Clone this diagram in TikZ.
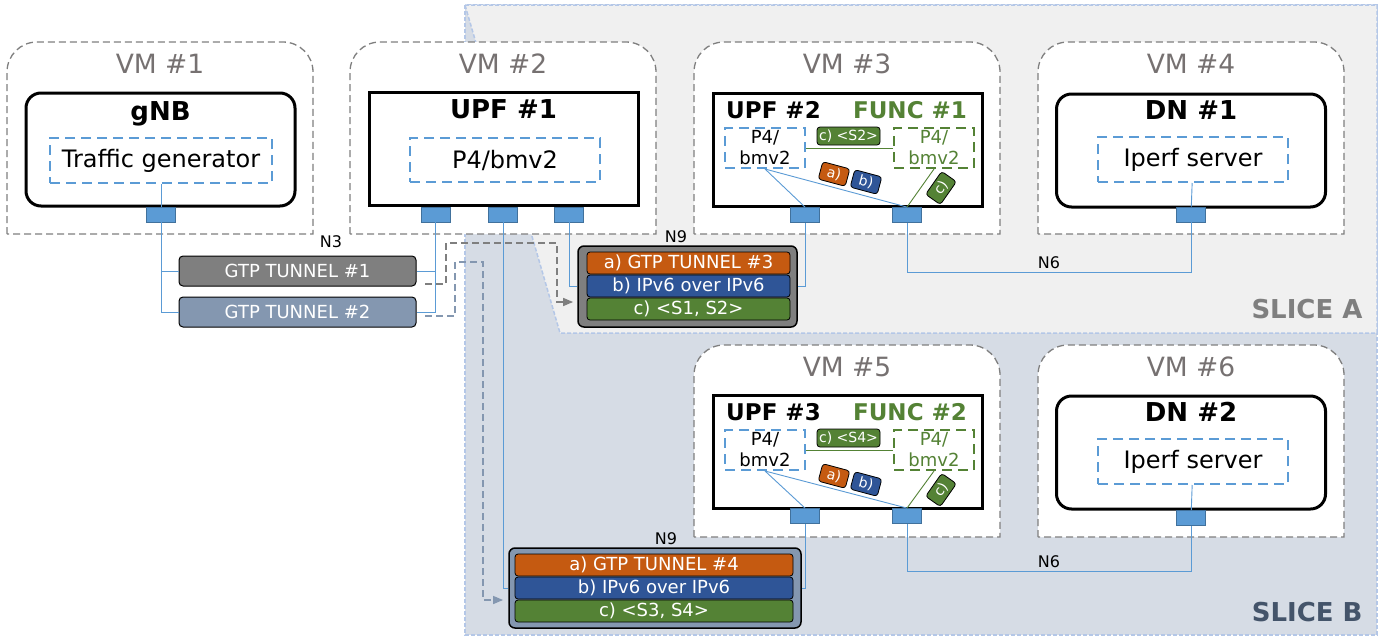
\documentclass[tikz,border=0pt]{standalone}
\usepackage{fontspec}
\setmainfont{DejaVu Sans}
\usepackage{tikz, xcolor}
\usetikzlibrary{arrows}

\definecolor{vmgray}{HTML}{7F7F7F}
\definecolor{vmtext}{HTML}{767171}
\definecolor{appblue}{HTML}{5B9BD5}
\definecolor{portedge}{HTML}{41719C}
\definecolor{funcgreen}{HTML}{548235}
\definecolor{gtporange}{HTML}{C55A11}
\definecolor{ipblue}{HTML}{2F5597}
\definecolor{tunnelgray}{HTML}{7F7F7F}
\definecolor{tunnelblue}{HTML}{8497B0}
\definecolor{sliceAfill}{HTML}{F0F0F0}
\definecolor{sliceBfill}{HTML}{D6DCE5}
\definecolor{sliceedge}{HTML}{B4C7E7}
\definecolor{sliceBtext}{HTML}{44546A}

\begin{document}
\begin{tikzpicture}
	[
		x=1pt, y=-1pt,
		slice/.style={draw=sliceedge, line width=1.5pt, dash pattern=on 4pt off 2pt},
		slicelabel/.style={anchor=base east, font=\fontsize{26}{29}\selectfont\bfseries},
		vm/.style={draw=vmgray, fill=white, line width=1.3pt, dash pattern=on 7pt off 4pt},
		vmlabel/.style={anchor=base, text=vmtext, font=\fontsize{26.5}{30}\selectfont},
		host/.style={draw=black, fill=white, line width=3pt, minimum width=269pt, minimum height=113pt, inner sep=0pt},
		title/.style={anchor=base, font=\fontsize{26}{29}\selectfont\bfseries},
		subtitle/.style={anchor=base, font=\fontsize{23}{26}\selectfont\bfseries},
		app/.style={draw=appblue, line width=2pt, dash pattern=on 10pt off 6pt, inner sep=0pt, font=\fontsize{24}{27}\selectfont},
		smallapp/.style={app, minimum width=80pt, minimum height=40pt, align=center, font=\fontsize{18}{21}\selectfont},
		func/.style={smallapp, draw=funcgreen, text=funcgreen},
		port/.style={draw=portedge, fill=appblue, line width=0.8pt, minimum width=29pt, minimum height=15pt, inner sep=0pt},
		link/.style={draw=appblue, line width=0.9pt},
		glink/.style={draw=funcgreen, line width=0.9pt},
		tunnel/.style={draw=black, line width=1pt, rounded corners=4pt, text=white, minimum width=237pt, minimum height=30pt, inner sep=0pt, font=\fontsize{18}{20}\selectfont},
		n9box/.style={draw=black, line width=1.5pt, rounded corners=6pt, inner sep=0pt},
		bar/.style={draw=black, line width=0.8pt, rounded corners=3pt, text=white, minimum height=22pt, inner sep=0pt, font=\fontsize{18}{20}\selectfont},
		tag/.style={draw=black, line width=0.8pt, rounded corners=3pt, text=white, minimum width=28pt, minimum height=18pt, inner sep=1pt, font=\fontsize{14}{16}\selectfont},
		netlabel/.style={font=\fontsize{16}{18}\selectfont},
		gtpflow/.style={line width=1.3pt, dash pattern=on 7pt off 4pt, -triangle 45}
	]
	\useasboundingbox (0,0) rectangle (1391,637);

	% Draw slices.
	\filldraw[slice, fill=sliceBfill] (465,5) rectangle (1377,635);
	\filldraw[slice, fill=sliceAfill] (465,5) -- (1377,5) -- (1377,333) -- (560,333) -- cycle;
	\node[slicelabel, text=vmgray] (sliceA) at (1366,318) {SLICE A};
	\node[slicelabel, text=sliceBtext] (sliceB) at (1366,621) {SLICE B};

	% Draw VMs (rounded on top only).
	\foreach \x/\y/\n in {7/42/1, 350/42/2, 694/42/3, 1038/42/4, 694/345/5, 1038/345/6}
	{
		\filldraw[vm] (\x,\y+192) -- (\x,\y+30)
			.. controls (\x,\y+13.4) and (\x+13.4,\y) .. (\x+30,\y) -- (\x+276,\y)
			.. controls (\x+292.6,\y) and (\x+306,\y+13.4) .. (\x+306,\y+30) -- (\x+306,\y+192) -- cycle;
		\node[vmlabel] (vm\n) at (\x+153,\y+31) {VM \#\n};
	}

	% Draw gNB.
	\node[host, rounded corners=15pt] (gnb) at (160.5,149.5) {};
	\node[title] (gnbtitle) at (160.5,120) {gNB};
	\node[app, minimum width=222pt, minimum height=45pt] (tg) at (161,160.5) {Traffic generator};

	% Draw UPF #1.
	\node[host] (upf1) at (503.5,149) {};
	\node[title] (upf1title) at (503.5,118) {UPF \#1};
	\node[app, minimum width=190pt, minimum height=44pt] (bmv1) at (505,160) {P4/bmv2};

	% Draw UPF #2 and FUNC #1.
	\node[host] (upf2) at (847.5,149.5) {};
	\node[subtitle] (upf2title) at (773.5,118) {UPF \#2};
	\node[subtitle, text=funcgreen] (func1title) at (910,118) {FUNC \#1};
	\node[smallapp] (bmv2) at (765,148) {P4/\\bmv2};
	\node[func] (func1) at (934,148) {P4/\\bmv2};

	% Draw DN #1.
	\node[host, rounded corners=15pt] (dn1) at (1191,150.5) {};
	\node[title] (dn1title) at (1191,119) {DN \#1};
	\node[app, minimum width=190pt, minimum height=45pt] (iperf1) at (1193,159.5) {Iperf server};

	% Draw UPF #3 and FUNC #2.
	\node[host] (upf3) at (847.5,452) {};
	\node[subtitle] (upf3title) at (773.5,420) {UPF \#3};
	\node[subtitle, text=funcgreen] (func2title) at (910,420) {FUNC \#2};
	\node[smallapp] (bmv3) at (765,450) {P4/\\bmv2};
	\node[func] (func2) at (934,450) {P4/\\bmv2};

	% Draw DN #2.
	\node[host, rounded corners=15pt] (dn2) at (1191,452.5) {};
	\node[title] (dn2title) at (1191,421) {DN \#2};
	\node[app, minimum width=190pt, minimum height=45pt] (iperf2) at (1193,461.5) {Iperf server};

	% Draw ports.
	\node[port] (p1) at (161,214.5) {};
	\node[port] (p21) at (435.5,214.5) {};
	\node[port] (p22) at (503,214.5) {};
	\node[port] (p23) at (569,214.5) {};
	\node[port] (p31) at (805,215) {};
	\node[port] (p32) at (907,215) {};
	\node[port] (p41) at (1191,214.5) {};
	\node[port] (p51) at (805,516) {};
	\node[port] (p52) at (907,516) {};
	\node[port] (p61) at (1191,518) {};

	% Links inside the VMs.
	\draw[link] (tg) -- (p1);
	\draw[link] (iperf1) -- (p41);
	\draw[link] (iperf2) -- (p61);
	\draw[link] (bmv2.south) -- (p31.north);
	\draw[link] (bmv2.south) -- (p32.north);
	\draw[glink] (func1.south) -- (p32.north);
	\draw[glink] (bmv2.east) -- (func1.west);
	\draw[link] (bmv3.south) -- (p51.north);
	\draw[link] (bmv3.south) -- (p52.north);
	\draw[glink] (func2.south) -- (p52.north);
	\draw[glink] (bmv3.east) -- (func2.west);

	% Tags of the chained traffic.
	\node[tag, fill=funcgreen, minimum width=63pt] (s2) at (848.5,136) {c) <S2>};
	\node[tag, fill=gtporange, rotate=-15] (tag1a) at (834,174) {a)};
	\node[tag, fill=ipblue, rotate=-15] (tag1b) at (866,182) {b)};
	\node[tag, fill=funcgreen, rotate=55] (tag1c) at (941,188) {c)};
	\node[tag, fill=funcgreen, minimum width=63pt] (s4) at (848.5,438) {c) <S4>};
	\node[tag, fill=gtporange, rotate=-15] (tag2a) at (834,476) {a)};
	\node[tag, fill=ipblue, rotate=-15] (tag2b) at (866,484) {b)};
	\node[tag, fill=funcgreen, rotate=55] (tag2c) at (941,490) {c)};

	% N3 tunnels.
	\node[tunnel, fill=tunnelgray] (t1) at (297.5,271) {GTP TUNNEL \#1};
	\node[tunnel, fill=tunnelblue] (t2) at (297.5,312) {GTP TUNNEL \#2};
	\node[netlabel] (n3) at (331,242) {N3};
	\draw[link] (p1) |- (t1);
	\draw[link] (p1) |- (t2);
	\draw[link] (p21) |- (t1);
	\draw[link] (p21) |- (t2);

	% N9 of slice A.
	\node[n9box, fill=tunnelgray, minimum width=219pt, minimum height=81pt] (n9a) at (687.5,286.5) {};
	\node[bar, fill=gtporange, minimum width=203pt] (n9a1) at (688.5,263) {a) GTP TUNNEL \#3};
	\node[bar, fill=ipblue, minimum width=203pt] (n9a2) at (688.5,286) {b) IPv6 over IPv6};
	\node[bar, fill=funcgreen, minimum width=203pt] (n9a3) at (688.5,309) {c) <S1, S2>};
	\node[netlabel] (n9alabel) at (676,237) {N9};
	\draw[link] (p23) |- (n9a);
	\draw[link] (n9a) -| (p31);

	% N9 of slice B.
	\node[n9box, fill=tunnelblue, minimum width=292pt, minimum height=80pt] (n9b) at (655,588) {};
	\node[bar, fill=gtporange, minimum width=278pt] (n9b1) at (654,565) {a) GTP TUNNEL \#4};
	\node[bar, fill=ipblue, minimum width=278pt] (n9b2) at (654,588) {b) IPv6 over IPv6};
	\node[bar, fill=funcgreen, minimum width=278pt] (n9b3) at (654,611) {c) <S3, S4>};
	\node[netlabel] (n9blabel) at (666,539) {N9};
	\draw[link] (p22) |- (n9b);
	\draw[link] (n9b) -| (p51);

	% Tunnels carried on to N9.
	\coordinate (g1) at (425,284);
	\coordinate (g1end) at (573,302);
	\draw[gtpflow, draw=tunnelgray] (g1) -- (446,284) -- (446,243) -- (557,243) |- (g1end);
	\coordinate (g2) at (425,316);
	\coordinate (g2end) at (503,600);
	\draw[gtpflow, draw=tunnelblue] (g2) -- (455,316) -- (455,262) -- (483,262) |- (g2end);

	% N6 links.
	\draw[link] (p32.south) -- ++(0,50) -| (p41.south) node[netlabel, pos=0.25, above] (n6a) {N6};
	\draw[link] (p52.south) -- ++(0,48) -| (p61.south) node[netlabel, pos=0.25, above] (n6b) {N6};
\end{tikzpicture}
\end{document}
